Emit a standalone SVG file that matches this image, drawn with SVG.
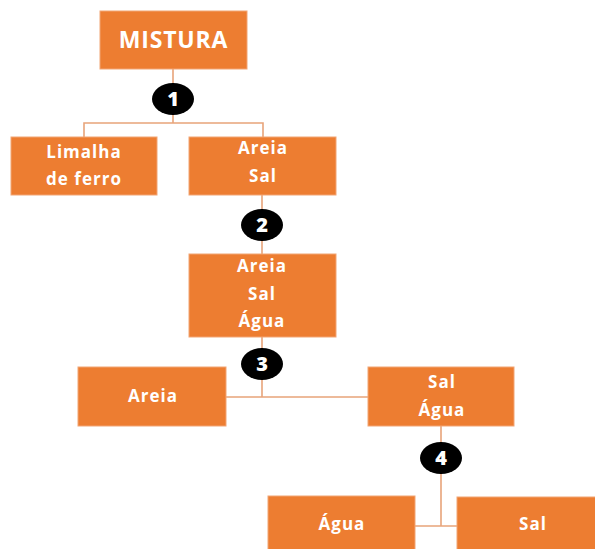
<svg xmlns="http://www.w3.org/2000/svg" width="595" height="549" viewBox="0 0 595 549">
<style>
.box{fill:#ED7D31;stroke:#F2A574;stroke-width:1}
.t{font-family:"Open Sans","Liberation Sans",sans-serif;font-weight:bold;font-size:17px;fill:#FFFFFF;text-anchor:middle;letter-spacing:1px}
.big{font-size:23px;letter-spacing:0.8px}
.c{fill:#000000}
.n{font-family:"Open Sans","Liberation Sans",sans-serif;font-weight:800;font-size:20px;fill:#FFFFFF;text-anchor:middle}
.ln{fill:none;stroke:#E8A47A;stroke-width:1.6}
</style>
<rect width="595" height="549" fill="#FFFFFF"/>
<g id="connectors">
<path class="ln" d="M173,69 V123 M84,137 V123 H263 V137"/>
<path class="ln" d="M262,195 V254"/>
<path class="ln" d="M262,337 V397 M226,397 H368"/>
<path class="ln" d="M441,426 V526 M415,526 H457"/>
</g>
<g id="step1"><ellipse class="c" cx="173" cy="99" rx="21" ry="16"/><text class="n" x="173" y="106">1</text></g>
<g id="step2"><ellipse class="c" cx="262" cy="225" rx="21" ry="16"/><text class="n" x="262" y="232">2</text></g>
<g id="step3"><ellipse class="c" cx="262" cy="364" rx="21" ry="16"/><text class="n" x="262" y="371">3</text></g>
<g id="step4"><ellipse class="c" cx="441" cy="458" rx="21" ry="16"/><text class="n" x="441" y="465">4</text></g>
<g id="mistura"><rect class="box" x="100" y="11" width="147" height="58"/><text class="t big" x="173.5" y="48">MISTURA</text></g>
<g id="limalha"><rect class="box" x="11" y="137" width="146" height="58"/><text class="t" x="84" y="158">Limalha</text><text class="t" x="84" y="185">de ferro</text></g>
<g id="areia-sal"><rect class="box" x="189" y="137" width="147" height="58"/><text class="t" x="263" y="154">Areia</text><text class="t" x="263" y="182">Sal</text></g>
<g id="areia-sal-agua"><rect class="box" x="189" y="254" width="147" height="83"/><text class="t" x="262" y="272">Areia</text><text class="t" x="262" y="300">Sal</text><text class="t" x="262" y="327">Água</text></g>
<g id="areia"><rect class="box" x="78" y="367" width="148" height="59"/><text class="t" x="153" y="402">Areia</text></g>
<g id="sal-agua"><rect class="box" x="368" y="367" width="146" height="59"/><text class="t" x="442" y="388">Sal</text><text class="t" x="442" y="416">Água</text></g>
<g id="agua"><rect class="box" x="268" y="496" width="147" height="60"/><text class="t" x="342" y="530">Água</text></g>
<g id="sal"><rect class="box" x="457" y="497" width="145" height="60"/><text class="t" x="533" y="530">Sal</text></g>
</svg>
